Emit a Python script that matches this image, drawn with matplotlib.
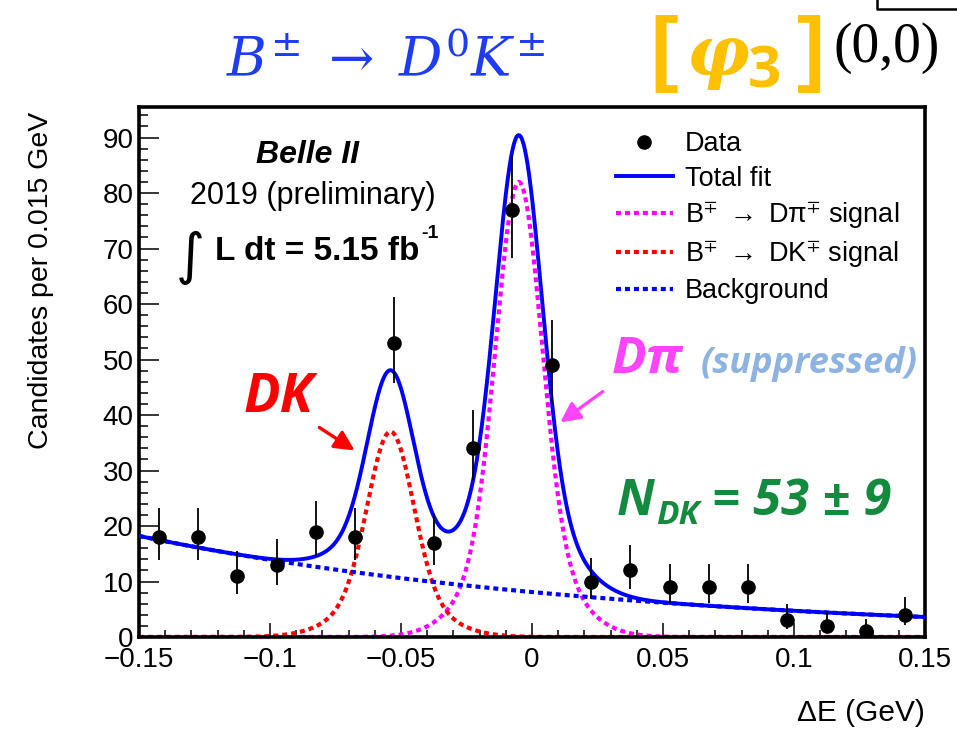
import numpy as np
import matplotlib
matplotlib.use("Agg")
import matplotlib.pyplot as plt
from matplotlib.lines import Line2D
from matplotlib.patches import FancyArrowPatch

plt.rcParams['font.family'] = ['Liberation Sans', 'DejaVu Sans']
plt.rcParams['mathtext.fontset'] = 'custom'
plt.rcParams['mathtext.rm'] = 'Liberation Sans'
plt.rcParams['mathtext.it'] = 'Liberation Sans:italic'
plt.rcParams['mathtext.bf'] = 'Liberation Sans:bold'
plt.rcParams['mathtext.fallback'] = 'stixsans'

# ---------------- data ----------------
bin_centers = [-0.1425, -0.1275, -0.1125, -0.0975, -0.0825, -0.0675, -0.0525,
               -0.0375, -0.0225, -0.0075, 0.0075, 0.0225, 0.0375, 0.0525,
               0.0675, 0.0825, 0.0975, 0.1125, 0.1275, 0.1425]
counts = [18, 18, 11, 13, 19, 18, 53, 17, 34, 77, 49, 10, 12, 9, 9, 9, 3, 2, 1, 4]
err_low = [4.20, 4.20, 3.26, 3.56, 4.32, 4.20, 7.26, 4.08, 5.80, 8.75, 6.97,
           3.10, 3.41, 2.94, 2.94, 2.94, 1.63, 1.29, 0.83, 1.91]
err_high = [5.32, 5.32, 4.41, 4.69, 5.43, 5.32, 8.32, 5.20, 6.90, 9.81, 8.04,
            4.26, 4.56, 4.11, 4.11, 4.11, 2.92, 2.64, 2.30, 3.16]

# fit model parameters
bg_norm = 8.1        # background at dE = 0
bg_slope = -5.4      # exponential slope (1/GeV)
dk_amp = 37.0
dk_mean = -0.054
dpi_amp = 82.0
dpi_mean = -0.005
sig_core = 0.0085
sig_tail = 0.0167
tail_frac = 0.21

x_range = (-0.15, 0.15)
y_range = (0, 95.5)

def peak(x, amp, mean):
    d = x - mean
    return amp * ((1 - tail_frac) * np.exp(-d**2 / (2 * sig_core**2)) +
                  tail_frac * np.exp(-d**2 / (2 * sig_tail**2)))

xs = np.linspace(x_range[0], x_range[1], 1201)
bkg = bg_norm * np.exp(bg_slope * xs)
dk = peak(xs, dk_amp, dk_mean)
dpi = peak(xs, dpi_amp, dpi_mean)
total = bkg + dk + dpi

# ---------------- figure ----------------
W, H = 957, 738
fig = plt.figure(figsize=(W / 100, H / 100), dpi=100)

def fx(px):
    return px / W

def fy(py):
    return 1 - py / H

ax = fig.add_axes([fx(139), fy(637), fx(925) - fx(139), fy(107) - fy(637)])

dot = (0, (1.2, 0.95))
ax.plot(xs, dpi, color='#ff00ff', lw=3.0, ls=dot, dash_capstyle='butt', zorder=2)
ax.plot(xs, dk, color='#ff0000', lw=3.0, ls=dot, dash_capstyle='butt', zorder=2)
ax.plot(xs, bkg, color='#0000ff', lw=3.0, ls=dot, dash_capstyle='butt', zorder=2)
ax.plot(xs, total, color='#0000ff', lw=2.8, zorder=3)
ax.errorbar(bin_centers, counts, yerr=[err_low, err_high], fmt='o', color='black',
            markersize=9.5, elinewidth=1.3, capsize=0, zorder=4, clip_on=True)

ax.set_xlim(*x_range)
ax.set_ylim(*y_range)
ax.set_xticks([-0.15, -0.1, -0.05, 0, 0.05, 0.1, 0.15])
ax.set_xticklabels(['\u22120.15', '\u22120.1', '\u22120.05', '0', '0.05', '0.1', '0.15'])
ax.set_xticks(np.arange(-0.15, 0.1501, 0.01), minor=True)
ax.set_yticks(np.arange(0, 91, 10))
ax.set_yticks(np.arange(0, 95, 2), minor=True)
ax.tick_params(axis='both', which='both', direction='in', top=False, right=False,
               labelsize=20, width=1.1)
ax.tick_params(axis='y', which='major', length=14.5, pad=4)
ax.tick_params(axis='y', which='minor', length=6.5)
ax.tick_params(axis='x', which='major', length=10, pad=7)
ax.tick_params(axis='x', which='minor', length=5)
for s in ax.spines.values():
    s.set_linewidth(2.6)

fig.text(fx(41), fy(112), 'Candidates per 0.015 GeV', rotation=90, ha='center',
         va='top', fontsize=20.5)
fig.text(fx(925), fy(713), '\u0394E (GeV)', ha='right', va='center', fontsize=21.5)

# legend
handles = [
    Line2D([], [], marker='o', color='black', ls='none', markersize=9.5),
    Line2D([], [], color='#0000ff', lw=2.8),
    Line2D([], [], color='#ff00ff', lw=3.0, ls=dot, dash_capstyle='butt'),
    Line2D([], [], color='#ff0000', lw=3.0, ls=dot, dash_capstyle='butt'),
    Line2D([], [], color='#0000ff', lw=3.0, ls=dot, dash_capstyle='butt'),
]
labels = ['Data', 'Total fit',
          r'B$^{\mp}$ $\rightarrow$ D$\mathrm{\pi}^{\mp}$ signal',
          r'B$^{\mp}$ $\rightarrow$ DK$^{\mp}$ signal',
          'Background']
fig.legend(handles, labels, loc='upper left', bbox_to_anchor=(fx(616), fy(131)),
           frameon=False, fontsize=19.5, handlelength=2.1, handletextpad=0.45,
           labelspacing=0.32, borderpad=0, borderaxespad=0)

# Belle II labels
fig.text(fx(307), fy(155), 'Belle II', ha='center', va='center', fontsize=23,
         fontweight='bold', fontstyle='italic')
fig.text(fx(313), fy(196), '2019 (preliminary)', ha='center', va='center', fontsize=22)
fig.text(fx(176), fy(258), '\u222b', ha='left', va='center', fontsize=40,
         family=['DejaVu Sans'])
fig.text(fx(215), fy(251), 'L dt = 5.15 fb', ha='left', va='center', fontsize=24,
         fontweight='bold')
fig.text(fx(421), fy(233), '-1', ha='left', va='center', fontsize=14, fontweight='bold')

# annotations
ann_font = ['Open Sans', 'Lato', 'DejaVu Sans']
fig.text(fx(244), fy(412), 'DK', color='#ff0000', fontsize=39, fontweight='bold',
         fontstyle='italic', family=ann_font, ha='left', va='baseline')
fig.add_artist(FancyArrowPatch((fx(317), fy(426)), (fx(357), fy(452)),
                               transform=fig.transFigure, arrowstyle='-|>',
                               mutation_scale=30, color='#ff0000', lw=2.4))
fig.text(fx(612), fy(373), 'D\u03c0', color='#ff44ff', fontsize=37, fontweight='bold',
         fontstyle='italic', family=ann_font, ha='left', va='baseline')
fig.text(fx(701), fy(373), '(suppressed)', color='#8db3e2', fontsize=26,
         fontweight='bold', fontstyle='italic', family=ann_font, ha='left',
         va='baseline')
fig.add_artist(FancyArrowPatch((fx(605), fy(390)), (fx(558), fy(424)),
                               transform=fig.transFigure, arrowstyle='-|>',
                               mutation_scale=30, color='#ff44ff', lw=2.4))
fig.text(fx(617), fy(515), r'N', color='#138a3e', fontsize=36, fontweight='bold',
         fontstyle='italic', family=ann_font, ha='left', va='baseline')
fig.text(fx(656), fy(524), 'DK', color='#138a3e', fontsize=24, fontweight='bold',
         fontstyle='italic', family=ann_font, ha='left', va='baseline')
fig.text(fx(712), fy(515), '= 53 \u00b1 9', color='#138a3e', fontsize=36.5,
         fontweight='bold', fontstyle='italic', family=ann_font, ha='left',
         va='baseline')

# title
fig.text(fx(226), fy(76), r'$B^{\pm}\;\rightarrow\;D^{0}K^{\pm}$', color='#1f3cf5',
         fontsize=39, math_fontfamily='dejavuserif', ha='left', va='baseline')
orange = '#ffc000'
fig.text(fx(650), fy(76), '[', color=orange, fontsize=60, fontweight='bold',
         ha='left', va='baseline')
fig.text(fx(686), fy(76), '\u03c6', color=orange, fontsize=50, fontweight='bold',
         fontstyle='italic', family=['DejaVu Serif'], ha='left', va='baseline')
fig.text(fx(748), fy(88), '3', color=orange, fontsize=42, fontweight='bold',
         family=ann_font, ha='left', va='baseline')
fig.text(fx(797), fy(76), ']', color=orange, fontsize=60, fontweight='bold',
         ha='left', va='baseline')
fig.text(fx(834), fy(62), '(0,0)', color='black', fontsize=40,
         family=['Liberation Serif'], ha='left', va='baseline')
fig.add_artist(Line2D([fx(877), fx(877), 1.0], [1.0, fy(9), fy(9)],
                      transform=fig.transFigure, color='black', lw=1.8))

fig.savefig('out.png', dpi=100)
